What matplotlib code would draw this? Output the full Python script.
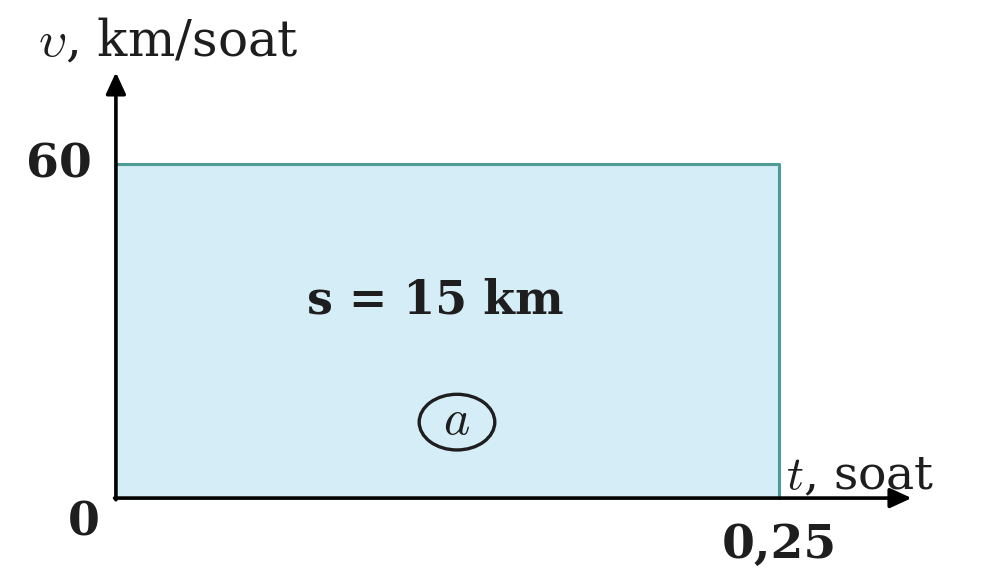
import matplotlib
matplotlib.use("Agg")
import matplotlib.pyplot as plt
from matplotlib.patches import Ellipse

plt.rcParams["mathtext.fontset"] = "cm"
plt.rcParams["font.family"] = ["DejaVu Serif"]

# Data: constant speed over time interval
t_vals = [0, 0.25]
v_vals = [60, 60]
t_ticks = ["0,25"]
v_ticks = ["60"]
distance_label = "s = 15 km"

ink = "#1e1e1e"

fig = plt.figure(figsize=(9.84, 5.76), dpi=100)
ax = fig.add_axes([0, 0, 1, 1])
ax.set_xlim(-0.0437, 0.3273)
ax.set_ylim(-14.0, 89.5)
ax.axis("off")

# Shaded area under v(t)
ax.fill_between(t_vals, 0, v_vals, color="#d4edf6", zorder=1)
ax.plot([t_vals[0], t_vals[1], t_vals[1]], [v_vals[0], v_vals[1], 0],
        color="#4f9b96", lw=2.2, zorder=2)

# Axes with arrows
arrow = dict(arrowstyle="-|>,head_length=1.3,head_width=0.6", color="black",
             lw=2.6, shrinkA=0, shrinkB=0)
ax.annotate("", xy=(0.300, 0), xytext=(-0.0005, 0), arrowprops=arrow, zorder=3)
ax.annotate("", xy=(0, 76.5), xytext=(0, -0.3), arrowprops=arrow, zorder=3)

# Axis labels
ax.text(-0.0295, 81.8, r"$\upsilon$, km/soat", fontsize=36,
        ha="left", va="center", color=ink)
ax.text(0.2527, 3.8, r"$t$, soat", fontsize=34,
        ha="left", va="center", color=ink)

# Tick values
ax.text(-0.0090, v_vals[0], v_ticks[0], fontsize=34, fontweight="bold",
        ha="right", va="center", color=ink)
ax.text(-0.0060, -4.3, "0", fontsize=33, fontweight="bold",
        ha="right", va="center", color=ink)
ax.text(t_vals[1], -8.4, t_ticks[0], fontsize=34, fontweight="bold",
        ha="center", va="center", color=ink)

# Area annotation
ax.text(0.1205, 35.5, distance_label, fontsize=33, fontweight="bold",
        ha="center", va="center", color=ink)
ax.add_patch(Ellipse((0.1286, 13.65), 0.0285, 10.0, fc="none", ec=ink,
                     lw=2.4, zorder=3))
ax.text(0.1286, 14.0, r"$a$", fontsize=36, ha="center", va="center", color=ink)

fig.savefig("out.png", dpi=100)
